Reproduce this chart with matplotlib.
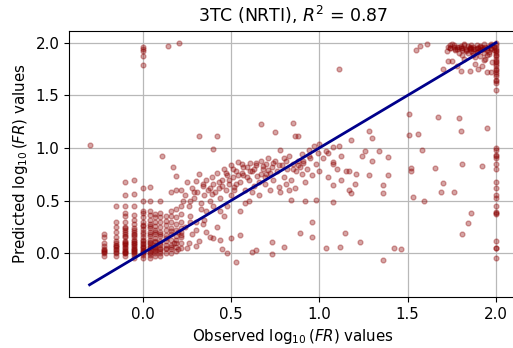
import numpy as np
import matplotlib
matplotlib.use('Agg')
import matplotlib.pyplot as plt

# vertical stacks of points at the low end (observed value, predicted values)
stack_x = [-0.22, -0.15, -0.10, -0.05, 0.00, 0.04, 0.07, 0.10, 0.13, 0.16, 0.19, 0.22]
stack_y = [
    [-0.03, 0.0, 0.02, 0.04, 0.07, 0.10, 0.15, 0.18, 0.01, 0.03],
    [-0.03, 0.0, 0.03, 0.06, 0.08, 0.10, 0.12, 0.15, 0.20, 0.25, 0.30, 0.45, 0.01, 0.04, 0.07],
    [-0.03, 0.0, 0.02, 0.05, 0.08, 0.10, 0.12, 0.15, 0.18, 0.20, 0.22, 0.25, 0.30, 0.35, 0.38,
     0.45, 0.55, 0.68, 0.0, 0.03, 0.06, 0.11, 0.16, 0.24, 0.01, 0.09],
    [-0.05, -0.02, 0.0, 0.03, 0.05, 0.08, 0.10, 0.13, 0.15, 0.18, 0.20, 0.24, 0.28, 0.32, 0.36,
     0.45, 0.56, 0.70, 0.01, 0.04, 0.07, 0.12, 0.17, 0.22, 0.02, 0.10],
    [-0.05, -0.02, 0.0, 0.02, 0.05, 0.07, 0.10, 0.12, 0.15, 0.18, 0.20, 0.23, 0.27, 0.30, 0.34,
     0.38, 0.40, 0.50, 0.62, 0.01, 0.03, 0.06, 0.09, 0.13, 0.26],
    [-0.05, -0.02, 0.0, 0.03, 0.05, 0.08, 0.10, 0.13, 0.16, 0.20, 0.24, 0.28, 0.32, 0.36, 0.40,
     0.50, 0.63, 0.01, 0.06, 0.11, 0.18, 0.26],
    [-0.03, 0.0, 0.03, 0.05, 0.08, 0.11, 0.14, 0.18, 0.22, 0.26, 0.30, 0.34, 0.37, 0.02, 0.06,
     0.12, 0.20],
    [-0.03, 0.0, 0.02, 0.05, 0.08, 0.12, 0.16, 0.20, 0.25, 0.30, 0.34, 0.38, 0.50, 0.04, 0.10,
     0.18],
    [0.0, 0.04, 0.08, 0.12, 0.17, 0.22, 0.27, 0.31, 0.35, 0.05, 0.14],
    [0.0, 0.04, 0.08, 0.13, 0.18, 0.24, 0.30, 0.35, 0.40, 0.58, 0.06, 0.21],
    [0.02, 0.06, 0.10, 0.16, 0.22, 0.28, 0.34, 0.42, 0.60, 0.73, 0.13],
    [0.05, 0.10, 0.17, 0.24, 0.30, 0.37, 0.45, 0.20],
]

# main band and scattered points
obs = [0.22, 0.24, 0.25, 0.26, 0.27, 0.28, 0.29, 0.30, 0.30, 0.31, 0.32, 0.33, 0.34, 0.35,
       0.36, 0.36, 0.37, 0.38, 0.39, 0.40, 0.40, 0.41, 0.42, 0.43, 0.44, 0.45, 0.46, 0.46,
       0.47, 0.48, 0.49, 0.50, 0.50, 0.51, 0.52, 0.53, 0.54, 0.55, 0.55, 0.56, 0.57, 0.58,
       0.59, 0.60, 0.60, 0.61, 0.62, 0.63, 0.64, 0.65, 0.66, 0.67, 0.68, 0.69, 0.70, 0.70,
       0.71, 0.72, 0.73, 0.74, 0.75, 0.76, 0.77, 0.78, 0.79, 0.80, 0.80, 0.81, 0.82, 0.83,
       0.84, 0.85, 0.86, 0.87, 0.88, 0.89, 0.90, 0.90, 0.91, 0.92, 0.93, 0.94, 0.95, 0.96,
       0.97, 0.98, 0.99, 1.00, 1.00, 1.02, 1.05, 1.05, 1.10, 1.12, 1.15, 1.20,
       0.20, 0.22, 0.24, 0.26, 0.28, 0.30, 0.32, 0.34, 0.36, 0.38, 0.25, 0.30, 0.42, 0.27,
       0.35, 0.18, 0.20, 0.44, 0.48, 0.52, 0.58, 0.62, 0.66, 0.72, 0.27, 0.33, 0.38,
       0.23, 0.29, 0.34, 0.39, 0.43, 0.47, 0.51, 0.54, 0.57, 0.61, 0.64, 0.68, 0.71, 0.74,
       0.77, 0.81, 0.85, 0.88, 0.91, 0.94, 0.45, 0.49, 0.53, 0.56, 0.59, 0.63, 0.67, 0.69,
       -0.30, 0.00, 0.00, 0.00, 0.00, 0.00, 0.145, 0.205, 1.113,
       1.51, 1.67, 1.79, 1.95, 1.80, 1.557, 1.51, 1.58, 1.52, 1.52, 1.655, 1.81, 1.92, 1.70,
       1.69, 1.76, 1.53, 1.59, 1.86, 1.84, 1.81,
       1.36, 1.36, 1.34, 1.39, 1.39, 1.28, 1.30, 1.18, 1.24, 1.28, 1.30, 1.26,
       1.36, 1.42, 1.46, 1.23, 1.145, 1.115, 1.04, 0.96, 0.96, 0.89, 0.80, 0.73, 0.73, 0.53,
       0.64, 0.62, 0.45, 0.48, 0.55, 0.50, 0.44, 0.40,
       1.08, 1.18, 1.17, 1.21, 1.17, 1.08, 1.08, 1.08, 1.12, 1.11, 1.08, 1.04,
       0.98, 0.92, 0.84, 0.83, 0.86, 0.88, 0.85, 0.67, 0.75, 0.78, 0.42, 0.32, 0.40, 0.11, 0.17]
pred = [0.60, 0.55, 0.68, 0.45, 0.35, 0.62, 0.52, 0.69, 0.30, 0.58, 0.75, 0.48, 0.64, 0.55,
        0.70, 0.40, 0.60, 0.50, 0.72, 0.66, 0.45, 0.58, 0.76, 0.62, 0.52, 0.70, 0.80, 0.35,
        0.60, 0.74, 0.66, 0.84, 0.55, 0.72, 0.63, 0.78, 0.87, 0.68, 0.40, 0.85, 0.74, 0.60,
        0.82, 0.70, 0.50, 0.86, 0.78, 0.64, 0.84, 0.73, 0.55, 0.88, 0.80, 0.66, 0.85, 0.75,
        0.90, 0.60, 0.82, 0.70, 0.88, 0.78, 0.63, 0.58, 0.84, 0.72, 0.90, 0.66, 0.80, 0.92,
        0.70, 0.85, 0.62, 0.78, 0.88, 0.82, 0.94, 0.75, 0.86, 0.68, 0.80, 0.98, 0.90, 0.74,
        1.02, 0.85, 0.95, 1.04, 0.78, 0.90, 0.95, 0.72, 0.80, 0.70, 0.78, 0.66,
        0.20, 0.15, 0.25, 0.10, 0.18, 0.22, 0.12, 0.28, 0.20, 0.15, 0.05, 0.07, 0.25, 0.30,
        0.32, 0.10, 0.04, 0.40, 0.45, 0.60, 0.48, 0.58, 0.68, 0.76, 0.50, 0.42, 0.62,
        0.50, 0.58, 0.66, 0.56, 0.68, 0.76, 0.80, 0.74, 0.82, 0.78, 0.86, 0.83, 0.79, 0.86,
        0.84, 0.88, 0.80, 0.84, 0.88, 0.92, 0.64, 0.70, 0.66, 0.76, 0.72, 0.80, 0.75, 0.72,
        1.03, 1.79, 1.87, 1.92, 1.94, 1.96, 1.97, 2.00, 1.75,
        1.32, 1.29, 1.28, 1.19, 1.16, 1.13, 1.12, 0.98, 0.81, 0.78, 0.81, 0.85, 0.83, 0.67,
        0.58, 0.58, 0.53, 0.50, 0.38, 0.29, 0.18,
        0.57, 0.65, 0.97, 0.91, 0.74, 1.16, 1.09, 1.08, 0.92, 0.74, 0.88, 0.97,
        -0.06, 0.05, 0.04, 0.11, 0.19, 0.06, 0.05, 0.15, 0.30, 0.19, 0.06, -0.01, 0.11, -0.08,
        0.03, 0.01, 0.04, 0.00, 0.17, 0.14, 0.13, 0.14,
        0.49, 0.57, 0.60, 0.75, 0.78, 0.65, 0.87, 0.85, 0.92, 1.02, 1.01, 0.97,
        0.51, 0.50, 0.51, 0.60, 1.11, 1.11, 1.24, 1.23, 1.15, 0.98, 1.11, 1.11, 0.99, 0.92, 0.82]

# cluster at the top right (censored observed values near 2)
top_obs = [1.55, 1.57, 1.61, 1.70, 1.72, 1.73, 1.74, 1.75, 1.76, 1.77, 1.78, 1.78, 1.79, 1.80,
           1.80, 1.81, 1.82, 1.82, 1.83, 1.84, 1.84, 1.85, 1.85, 1.86, 1.86, 1.87, 1.87, 1.88,
           1.88, 1.89, 1.89, 1.90, 1.90, 1.91, 1.91, 1.92, 1.92, 1.93, 1.93, 1.94, 1.94, 1.95,
           1.95, 1.96, 1.96, 1.97, 1.97, 1.98, 1.98, 1.99, 1.75, 1.73, 1.80, 1.85, 1.90, 1.92,
           1.95, 1.97, 1.88, 1.78, 1.82, 1.76, 1.83, 1.87, 1.93, 1.74, 1.81, 1.86, 1.91, 1.96,
           1.74, 1.77, 1.79, 1.81, 1.83, 1.85, 1.87, 1.89, 1.91, 1.93, 1.95, 1.97, 1.99]
top_pred = [1.93, 1.97, 1.99, 1.75, 1.92, 1.83, 1.95, 1.83, 1.98, 1.93, 1.78, 1.96, 1.90, 1.73,
            1.97, 1.93, 1.85, 1.99, 1.94, 1.90, 1.97, 1.73, 1.95, 1.92, 1.98, 1.88, 1.96, 1.80,
            1.94, 1.91, 1.98, 1.75, 1.95, 1.87, 1.97, 1.78, 1.94, 1.90, 1.99, 1.85, 1.96, 1.72,
            1.93, 1.89, 1.97, 1.72, 1.95, 1.82, 1.98, 1.93, 1.99, 1.96, 1.95, 1.94, 1.92, 1.96,
            1.88, 1.99, 1.86, 1.94, 1.98, 1.96, 1.92, 1.90, 1.84, 1.98, 1.88, 1.95, 1.93, 1.91,
            1.95, 1.94, 1.96, 1.95, 1.93, 1.96, 1.94, 1.95, 1.96, 1.94, 1.95, 1.94, 1.96]

# column at observed = 2.0
edge_y = [1.62, 1.65, 1.68, 1.70, 1.72, 1.75, 1.78, 1.80, 1.83, 1.85, 1.88, 1.90, 1.92, 1.95,
          1.98, 2.00, 1.55, 1.00, 0.98, 0.93, 0.90, 0.85, 0.80, 0.68, 0.62, 0.55, 0.52, 0.45,
          0.38, 0.37, 0.12, 0.05, 0.05, -0.05, 1.64, 1.74, 1.82, 1.87, 1.93, 0.92, 0.39]

x = list(obs) + list(top_obs) + [2.0] * len(edge_y)
y = list(pred) + list(top_pred) + list(edge_y)
for sx, ys in zip(stack_x, stack_y):
    x += [sx] * len(ys)
    y += ys

fig = plt.figure(figsize=(5.13, 3.48), dpi=100)
ax = fig.add_axes([0.135, 0.146, 0.8715, 0.766])
ax.scatter(x, y, s=12, color='darkred', alpha=0.35, zorder=2)
ax.plot([-0.3, 2.0], [-0.3, 2.0], color='darkblue', lw=2, zorder=3)
ax.set_xlim(-0.415, 2.115)
ax.set_ylim(-0.418, 2.115)
ax.set_xticks([0.0, 0.5, 1.0, 1.5, 2.0])
ax.set_yticks([0.0, 0.5, 1.0, 1.5, 2.0])
ax.grid(True, color='#b8b8b8', lw=0.9, zorder=0)
ax.set_axisbelow(True)
ax.tick_params(labelsize=10.8)
ax.set_xlabel(r'Observed $\log_{10}(FR)$ values', fontsize=10.8)
ax.set_ylabel(r'Predicted $\log_{10}(FR)$ values', fontsize=10.8)
ax.set_title(r'3TC (NRTI), $R^2$ = 0.87', fontsize=12.5)

fig.savefig('out.png', dpi=100)
